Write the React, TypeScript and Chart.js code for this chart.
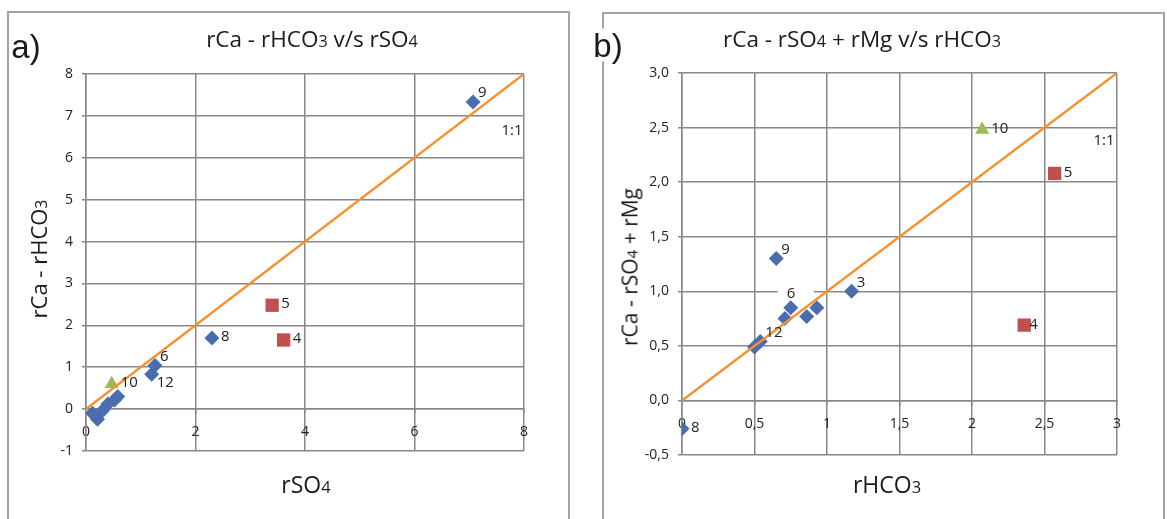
import React, { useEffect, useRef } from 'react';
import { Chart, registerables } from 'chart.js';

Chart.register(...registerables);

// ---------- panel a) rCa - rHCO3 against rSO4 ----------
const aDiamondX = [7.07, 2.3, 1.26, 1.2, 0.12, 0.21, 0.3, 0.4, 0.52, 0.58];
const aDiamondY = [7.33, 1.7, 1.04, 0.83, -0.1, -0.24, -0.04, 0.12, 0.22, 0.3];
const aDiamondTags = ['9', '8', '6', '12', '', '', '', '', '', ''];
const aDiamondSpots = ['ne', 'e', 'ne', 'se', '', '', '', '', '', ''];
const aSquareX = [3.4, 3.61];
const aSquareY = [2.48, 1.65];
const aSquareTags = ['5', '4'];
const aSquareSpots = ['e', 'e'];
const aTriangleX = [0.47];
const aTriangleY = [0.6];
const aTriangleTags = ['10'];
const aTriangleSpots = ['e'];
const aRangeX = [0, 8];
const aRangeY = [-1, 8];
const aStepX = 2;
const aStepY = 1;
const aRatioLabelAt = [7.78, 6.65];

// ---------- panel b) rCa - rSO4 + rMg against rHCO3 ----------
const bDiamondX = [0.65, 1.17, 0.75, 0.71, 0.86, 0.93, 0.54, 0.5, 0.0];
const bDiamondY = [1.3, 1.0, 0.85, 0.75, 0.77, 0.85, 0.54, 0.49, -0.26];
const bDiamondTags = ['9', '3', '6', '', '', '', '12', '', '8'];
const bDiamondSpots = ['ne', 'ne', 'nb', '', '', '', 'ne', '', 'e'];
const bSquareX = [2.57, 2.36];
const bSquareY = [2.08, 0.69];
const bSquareTags = ['5', '4'];
const bSquareSpots = ['e', 'in'];
const bTriangleX = [2.07];
const bTriangleY = [2.48];
const bTriangleTags = ['10'];
const bTriangleSpots = ['e'];
const bRangeX = [0, 3];
const bRangeY = [-0.5, 3];
const bStepX = 0.5;
const bStepY = 0.5;
const bRatioLabelAt = [2.91, 2.38];

const BLUE = '#4a6db0';
const RED = '#c0504d';
const GREEN = '#9bbb59';
const ORANGE = '#f7902f';
const GRID = '#888888';
const INK = '#222222';
const FONT = '"Open Sans", sans-serif';

// label offsets (px) from the marker centre, by placement key
const OFFSETS: Record<string, [number, number]> = {
  e: [9, -1],
  ne: [5, -9],
  se: [5, 8],
  nb: [-4, -14],
  in: [5, 0],
};

const zip = (xs: number[], ys: number[]) => xs.map((x, i) => ({ x, y: ys[i] }));

const sampleLabels = {
  id: 'sampleLabels',
  beforeDatasetsDraw(chart: any) {
    const ctx = chart.ctx;
    ctx.save();
    chart.data.datasets.forEach((ds: any, di: number) => {
      if (!ds.tags) return;
      const meta = chart.getDatasetMeta(di);
      meta.data.forEach((el: any, i: number) => {
        if (ds.spots[i] !== 'nb') return;
        const [dx, dy] = OFFSETS.nb;
        ctx.fillStyle = '#ffffff';
        ctx.fillRect(el.x + dx - 9, el.y + dy - 8, 36, 16);
      });
    });
    ctx.restore();
  },
  afterDatasetsDraw(chart: any, _args: any, opts: any) {
    const ctx = chart.ctx;
    ctx.save();
    ctx.font = `15px ${FONT}`;
    ctx.fillStyle = INK;
    ctx.textBaseline = 'middle';
    ctx.textAlign = 'left';
    chart.data.datasets.forEach((ds: any, di: number) => {
      if (!ds.tags) return;
      const meta = chart.getDatasetMeta(di);
      meta.data.forEach((el: any, i: number) => {
        const tag = ds.tags[i];
        if (!tag) return;
        const [dx, dy] = OFFSETS[ds.spots[i]];
        ctx.fillText(tag, el.x + dx, el.y + dy);
      });
    });
    if (opts && opts.ratioAt) {
      ctx.textAlign = 'center';
      ctx.fillText(
        '1:1',
        chart.scales.x.getPixelForValue(opts.ratioAt[0]),
        chart.scales.y.getPixelForValue(opts.ratioAt[1])
      );
    }
    ctx.restore();
  },
};

type Spec = {
  diamonds: [number[], number[], string[], string[]];
  squares: [number[], number[], string[], string[]];
  triangles: [number[], number[], string[], string[]];
  rangeX: number[];
  rangeY: number[];
  stepX: number;
  stepY: number;
  ratioAt: number[];
  fmtX: (v: number) => string;
  fmtY: (v: number) => string;
  padding: { left: number; right: number; top: number; bottom: number };
};

function buildConfig(s: Spec): any {
  const gridOpts = { color: GRID, lineWidth: 1.5, drawTicks: true, tickLength: 4 };
  const tickFont = { family: FONT, size: 14 };
  const lim = Math.min(s.rangeX[1], s.rangeY[1]);
  return {
    type: 'scatter',
    data: {
      datasets: [
        {
          data: [{ x: 0, y: 0 }, { x: lim, y: lim }],
          showLine: true,
          borderColor: ORANGE,
          borderWidth: 2.4,
          pointRadius: 0,
        },
        {
          data: zip(s.diamonds[0], s.diamonds[1]),
          tags: s.diamonds[2],
          spots: s.diamonds[3],
          pointStyle: 'rectRot',
          pointRadius: 7.5,
          backgroundColor: BLUE,
          borderColor: BLUE,
          borderWidth: 0,
        },
        {
          data: zip(s.squares[0], s.squares[1]),
          tags: s.squares[2],
          spots: s.squares[3],
          pointStyle: 'rect',
          pointRadius: 9.4,
          backgroundColor: RED,
          borderColor: RED,
          borderWidth: 0,
        },
        {
          data: zip(s.triangles[0], s.triangles[1]),
          tags: s.triangles[2],
          spots: s.triangles[3],
          pointStyle: 'triangle',
          pointRadius: 8.2,
          backgroundColor: GREEN,
          borderColor: GREEN,
          borderWidth: 0,
        },
      ],
    },
    options: {
      responsive: false,
      animation: false,
      events: [],
      layout: { padding: s.padding },
      plugins: {
        legend: { display: false },
        tooltip: { enabled: false },
        title: { display: false },
        sampleLabels: { ratioAt: s.ratioAt },
      },
      scales: {
        x: {
          type: 'linear',
          position: { y: 0 },
          min: s.rangeX[0],
          max: s.rangeX[1],
          grid: gridOpts,
          border: { color: GRID, width: 1.5 },
          ticks: {
            stepSize: s.stepX,
            font: tickFont,
            color: INK,
            padding: 11,
            maxRotation: 0,
            callback: (v: number) => s.fmtX(v),
          },
        },
        y: {
          type: 'linear',
          position: 'left',
          min: s.rangeY[0],
          max: s.rangeY[1],
          grid: gridOpts,
          border: { color: GRID, width: 1.5 },
          ticks: {
            stepSize: s.stepY,
            font: tickFont,
            color: INK,
            padding: 9,
            callback: (v: number) => s.fmtY(v),
          },
          afterFit: (scale: any) => {
            scale.width = 40;
          },
        },
      },
    },
    plugins: [sampleLabels],
  };
}

const comma = (v: number, digits?: number) =>
  (digits === undefined ? String(Math.round(v * 100) / 100) : v.toFixed(digits)).replace('.', ',');

function ScatterCanvas(props: { spec: Spec; left: number; width: number }) {
  const ref = useRef<HTMLCanvasElement | null>(null);
  useEffect(() => {
    if (!ref.current) return;
    const chart = new Chart(ref.current, buildConfig(props.spec));
    return () => chart.destroy();
  }, []);
  return (
    <canvas
      ref={ref}
      width={props.width}
      height={519}
      style={{ position: 'absolute', left: props.left, top: 0, width: props.width, height: 519 }}
    />
  );
}

function Text(props: { x: number; y: number; size: number; rotate?: boolean; family?: string; bg?: boolean; children: any }) {
  return (
    <div
      style={{
        position: 'absolute',
        left: props.x,
        top: props.y,
        transform: `translate(-50%, -50%)${props.rotate ? ' rotate(-90deg)' : ''}`,
        whiteSpace: 'nowrap',
        fontSize: props.size,
        fontFamily: props.family || FONT,
        color: '#1a1a1a',
        lineHeight: 1,
        background: props.bg ? '#fff' : 'transparent',
      }}
    >
      {props.children}
    </div>
  );
}

const Sub = (p: { children: any }) => <span style={{ fontSize: '0.72em' }}>{p.children}</span>;

const specA: Spec = {
  diamonds: [aDiamondX, aDiamondY, aDiamondTags, aDiamondSpots],
  squares: [aSquareX, aSquareY, aSquareTags, aSquareSpots],
  triangles: [aTriangleX, aTriangleY, aTriangleTags, aTriangleSpots],
  rangeX: aRangeX,
  rangeY: aRangeY,
  stepX: aStepX,
  stepY: aStepY,
  ratioAt: aRatioLabelAt,
  fmtX: (v) => String(v),
  fmtY: (v) => String(v),
  padding: { left: 46, right: 61, top: 74, bottom: 68 },
};

const specB: Spec = {
  diamonds: [bDiamondX, bDiamondY, bDiamondTags, bDiamondSpots],
  squares: [bSquareX, bSquareY, bSquareTags, bSquareSpots],
  triangles: [bTriangleX, bTriangleY, bTriangleTags, bTriangleSpots],
  rangeX: bRangeX,
  rangeY: bRangeY,
  stepX: bStepX,
  stepY: bStepY,
  ratioAt: bRatioLabelAt,
  fmtX: (v) => comma(v),
  fmtY: (v) => comma(v, 1),
  padding: { left: 57, right: 50, top: 73, bottom: 64 },
};

export default function App() {
  return (
    <div
      style={{
        position: 'fixed',
        left: 0,
        top: 0,
        width: 1167,
        height: 519,
        overflow: 'hidden',
        background: '#ffffff',
      }}
    >
      <div style={{ position: 'absolute', left: 7, top: 11, width: 559, height: 560, border: '2px solid #a3a3a3' }} />
      <div style={{ position: 'absolute', left: 602, top: 12, width: 559, height: 560, border: '2px solid #a3a3a3' }} />

      <ScatterCanvas spec={specA} left={0} width={585} />
      <ScatterCanvas spec={specB} left={585} width={582} />

      <Text x={26} y={46} size={33} family='"Liberation Sans", Arial, sans-serif'>a)</Text>
      <Text x={608} y={45} size={33} family='"Liberation Sans", Arial, sans-serif' bg>b)</Text>

      <Text x={312} y={39} size={22.5}>
        rCa - rHCO<Sub>3</Sub> v/s rSO<Sub>4</Sub>
      </Text>
      <Text x={862} y={39} size={22.5}>
        rCa - rSO<Sub>4</Sub> + rMg v/s rHCO<Sub>3</Sub>
      </Text>

      <Text x={38} y={259} size={22} rotate>
        rCa - rHCO<Sub>3</Sub>
      </Text>
      <Text x={306} y={484} size={23}>
        rSO<Sub>4</Sub>
      </Text>

      <Text x={630} y={267} size={21} rotate>
        rCa - rSO<Sub>4</Sub> + rMg
      </Text>
      <Text x={887} y={484} size={23}>
        rHCO<Sub>3</Sub>
      </Text>
    </div>
  );
}
